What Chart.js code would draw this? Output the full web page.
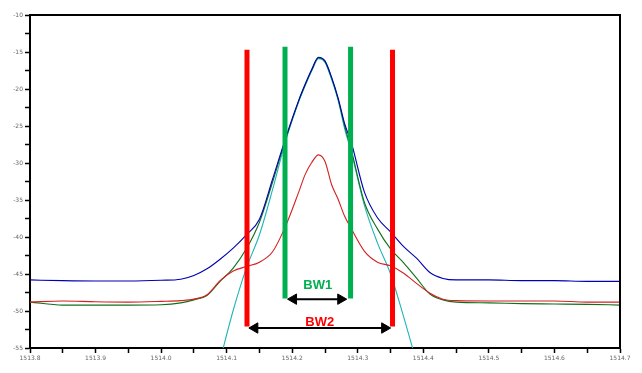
<!DOCTYPE html>
<html>
<head>
<meta charset="utf-8">
<script src="https://cdn.jsdelivr.net/npm/chart.js@4/dist/chart.umd.min.js"></script>
<style>
  html, body { margin: 0; padding: 0; background: #fff; }
  #chart { display: block; }
</style>
</head>
<body>
<canvas id="chart" width="642" height="373"></canvas>
<script>
// wavelength (nm) and the four traces (dB)
const freq = [1513.80, 1513.85, 1513.90, 1513.95, 1514.00, 1514.03, 1514.05, 1514.07, 1514.09, 1514.11,
              1514.13, 1514.15, 1514.17, 1514.19, 1514.21, 1514.22, 1514.23, 1514.24, 1514.25, 1514.26,
              1514.27, 1514.28, 1514.29, 1514.31, 1514.33, 1514.35, 1514.37, 1514.39, 1514.41, 1514.43,
              1514.45, 1514.50, 1514.55, 1514.60, 1514.65, 1514.70];

const blueTrace = [-45.8, -45.9, -45.95, -45.95, -45.85, -45.7, -45.2, -44.3, -43.0, -41.5,
                   -39.7, -37.6, -32.2, -26.6, -21.5, -19.3, -17.3, -15.7, -16.2, -18.4,
                   -21.2, -24.7, -27.2, -33.9, -37.4, -39.3, -41.3, -42.9, -44.8, -45.6,
                   -45.8, -45.8, -45.9, -45.9, -46.0, -46.0];

const redTrace = [-48.8, -48.65, -48.75, -48.8, -48.7, -48.6, -48.4, -47.8, -45.9, -44.6,
                  -44.0, -43.4, -42.0, -38.5, -33.9, -31.5, -29.9, -28.9, -29.8, -32.9,
                  -34.9, -37.2, -38.85, -41.9, -43.4, -43.9, -44.9, -46.3, -47.6, -48.4,
                  -48.6, -48.65, -48.65, -48.65, -48.8, -48.8];

const greenTrace = [-48.8, -49.2, -49.2, -49.2, -49.15, -48.9, -48.5, -47.9, -46.0, -44.2,
                    -41.6, -38.0, -32.6, -26.8, -21.6, -19.4, -17.4, -15.8, -16.3, -18.5,
                    -21.4, -25.0, -28.2, -35.3, -38.9, -41.6, -43.5, -45.6, -47.7, -48.5,
                    -48.8, -48.9, -49.0, -49.05, -49.1, -49.2];

const cyanTrace = [null, null, null, null, null, null, null, null, -56.6, -49.9,
                   -44.2, -39.7, -33.6, -27.0, -21.7, -19.5, -17.5, -15.9, -16.4, -18.7,
                   -21.5, -25.4, -28.5, -35.7, -40.8, -45.0, -50.8, -57.0, null, null,
                   null, null, null, null, null, null];

// bandwidth markers
const bw1Edges = [1514.189, 1514.289];
const bw1Top = -14.3;
const bw1Bottom = -48.3;
const bw1Arrow = [1514.202, 1514.274];
const bw1Level = -48.4;

const bw2Edges = [1514.131, 1514.353];
const bw2Top = -14.7;
const bw2Bottom = -52.1;
const bw2Arrow = [1514.143, 1514.341];
const bw2Level = -52.3;

const xTicksMin = 1513.8;
const xTicksMax = 1514.7;
const yTicksMin = -55;
const yTicksMax = -10;

function pts(xs, ys) {
    return xs.map((x, i) => ({ x: x, y: ys[i] }));
}

function trace(data, color, order) {
    return {
        data: pts(freq, data),
        borderColor: color,
        borderWidth: 1.1,
        pointRadius: 0,
        cubicInterpolationMode: 'monotone',
        spanGaps: false,
        order: order
    };
}

function bar(x, top, bottom, color) {
    return {
        data: [{ x: x, y: top }, { x: x, y: bottom }],
        borderColor: color,
        borderWidth: 5,
        borderCapStyle: 'butt',
        pointRadius: 0,
        order: 0
    };
}

function arrow(xs, level) {
    return {
        data: [{ x: xs[0], y: level }, { x: xs[1], y: level }],
        borderColor: '#000',
        borderWidth: 2,
        pointStyle: 'triangle',
        pointRotation: [-90, 90],
        pointRadius: 6,
        pointBackgroundColor: '#000',
        pointBorderColor: '#000',
        pointBorderWidth: 1,
        order: 0
    };
}

// frame on top/right and the BW captions
const extras = {
    id: 'extras',
    afterDatasetsDraw(chart) {
        const ctx = chart.ctx;
        const a = chart.chartArea;
        const xs = chart.scales.x;
        const ys = chart.scales.y;
        ctx.save();
        ctx.strokeStyle = '#000';
        ctx.lineWidth = 2;
        ctx.beginPath();
        ctx.moveTo(a.left, a.top);
        ctx.lineTo(a.right, a.top);
        ctx.lineTo(a.right, a.bottom);
        ctx.stroke();

        ctx.font = 'bold 13px "Liberation Sans", Arial, sans-serif';
        ctx.textAlign = 'center';
        ctx.textBaseline = 'middle';
        ctx.fillStyle = '#00b050';
        ctx.fillText('BW1', xs.getPixelForValue((bw1Edges[0] + bw1Edges[1]) / 2), ys.getPixelForValue(-46.5));
        ctx.fillStyle = '#ff0000';
        ctx.fillText('BW2', xs.getPixelForValue((bw2Edges[0] + bw2Edges[1]) / 2), ys.getPixelForValue(-51.5));
        ctx.restore();
    }
};

const ctx = document.getElementById('chart');

new Chart(ctx, {
    type: 'line',
    data: {
        datasets: [
            trace(blueTrace, '#0000b4', 1),
            trace(redTrace, '#d42020', 2),
            trace(greenTrace, '#10701a', 3),
            trace(cyanTrace, '#1fb5b5', 4),
            bar(bw2Edges[0], bw2Top, bw2Bottom, '#ff0000'),
            bar(bw2Edges[1], bw2Top, bw2Bottom, '#ff0000'),
            bar(bw1Edges[0], bw1Top, bw1Bottom, '#00b050'),
            bar(bw1Edges[1], bw1Top, bw1Bottom, '#00b050'),
            arrow(bw1Arrow, bw1Level),
            arrow(bw2Arrow, bw2Level)
        ]
    },
    options: {
        responsive: false,
        animation: false,
        devicePixelRatio: 1,
        layout: { padding: { top: 15, right: 22, left: 0, bottom: 0 } },
        plugins: {
            legend: { display: false },
            tooltip: { enabled: false }
        },
        scales: {
            x: {
                type: 'linear',
                min: xTicksMin,
                max: xTicksMax,
                afterFit: (s) => { s.height = 25; },
                border: { color: '#000', width: 2 },
                grid: { drawOnChartArea: false, tickLength: 5, color: '#000', tickWidth: 1.5 },
                ticks: {
                    stepSize: 0.05,
                    maxRotation: 0,
                    autoSkip: false,
                    padding: 2,
                    color: '#666',
                    font: { size: 6, family: 'DejaVu Sans' },
                    callback: (v) => Math.round(v * 100) % 10 === 0 ? v.toFixed(1) : ''
                }
            },
            y: {
                type: 'linear',
                min: yTicksMin,
                max: yTicksMax,
                afterFit: (s) => { s.width = 30; },
                border: { color: '#000', width: 2 },
                grid: { drawOnChartArea: false, tickLength: 5, color: '#000', tickWidth: 1.5 },
                ticks: {
                    stepSize: 2.5,
                    autoSkip: false,
                    padding: 2,
                    color: '#666',
                    font: { size: 6, family: 'DejaVu Sans' },
                    callback: (v) => Math.round(v * 10) % 50 === 0 ? String(v) : ''
                }
            }
        }
    },
    plugins: [extras]
});
</script>
</body>
</html>
